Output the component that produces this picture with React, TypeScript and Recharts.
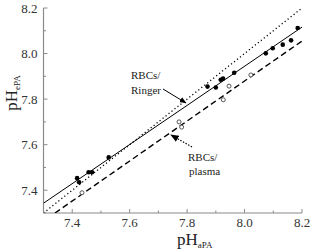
import React from 'react';
import { ScatterChart, Scatter, XAxis, YAxis } from 'recharts';

const ringerX = [7.417, 7.424, 7.457, 7.469, 7.527, 7.871, 7.900, 7.917, 7.925, 7.964, 8.074, 8.098, 8.133, 8.162, 8.185];
const ringerY = [7.453, 7.435, 7.479, 7.479, 7.544, 7.855, 7.851, 7.885, 7.890, 7.916, 8.001, 8.023, 8.039, 8.058, 8.112];
const plasmaX = [7.434, 7.772, 7.781, 7.926, 7.946, 8.022];
const plasmaY = [7.389, 7.700, 7.677, 7.797, 7.857, 7.906];

const identityX = [7.3, 8.2];
const identityY = [7.3, 8.2];
const ringerFitX = [7.3, 8.2];
const ringerFitY = [7.343, 8.116];
const plasmaFitX = [7.34, 8.2];
const plasmaFitY = [7.3, 8.055];

const tickValues = [7.3, 7.4, 7.5, 7.6, 7.7, 7.8, 7.9, 8.0, 8.1, 8.2];
const labeledTicks = ['7.4', '7.6', '7.8', '8.0', '8.2'];

const zip = (xs: number[], ys: number[]) => xs.map((x, i) => ({ x, y: ys[i] }));

const ringerData = zip(ringerX, ringerY);
const plasmaData = zip(plasmaX, plasmaY);
const identityData = zip(identityX, identityY);
const ringerFitData = zip(ringerFitX, ringerFitY);
const plasmaFitData = zip(plasmaFitX, plasmaFitY);

const FONT = "'Liberation Serif', 'Times New Roman', serif";
const AXIS = '#8a8a8a';

const XTick = (props: any) => {
  const { x, y, payload } = props;
  const label = Number(payload.value).toFixed(1);
  const major = labeledTicks.includes(label);
  return (
    <g>
      <line x1={x} x2={x} y1={y} y2={y - (major ? 4 : 2.5)} stroke={AXIS} strokeWidth={1} />
      {major && (
        <text x={x} y={y + 14} textAnchor="middle" fontFamily={FONT} fontSize={13} fill="#333">
          {label}
        </text>
      )}
    </g>
  );
};

const YTick = (props: any) => {
  const { x, y, payload } = props;
  const label = Number(payload.value).toFixed(1);
  const major = labeledTicks.includes(label);
  return (
    <g>
      <line x1={x} x2={x + (major ? 4 : 2.5)} y1={y} y2={y} stroke={AXIS} strokeWidth={1} />
      {major && (
        <text x={x - 6} y={y + 4.5} textAnchor="end" fontFamily={FONT} fontSize={13} fill="#333">
          {label}
        </text>
      )}
    </g>
  );
};

const Filled = (p: any) => <circle cx={p.cx} cy={p.cy} r={2.3} fill="#000" />;
const Open = (p: any) => <circle cx={p.cx} cy={p.cy} r={2} fill="#fff" stroke="#555" strokeWidth={1} />;
const NoShape = () => <g />;

export default function App() {
  return (
    <div style={{ position: 'absolute', left: 0, top: 0, width: 312, height: 250, background: '#fff' }}>
      <ScatterChart width={312} height={250} margin={{ top: 8, right: 10, bottom: 0, left: 0 }}>
        <defs>
          <marker id="arrowHead" viewBox="0 0 10 10" refX="9" refY="5" markerWidth="7" markerHeight="7" orient="auto">
            <path d="M0,1 L10,5 L0,9 z" fill="#000" />
          </marker>
        </defs>
        <XAxis
          dataKey="x"
          type="number"
          domain={[7.3, 8.2]}
          ticks={tickValues}
          interval={0}
          allowDataOverflow
          height={37}
          tickSize={0}
          tickMargin={0}
          tickLine={false}
          axisLine={{ stroke: AXIS, strokeWidth: 1.2 }}
          tick={<XTick />}
        />
        <YAxis
          dataKey="y"
          type="number"
          domain={[7.3, 8.2]}
          ticks={tickValues}
          interval={0}
          allowDataOverflow
          width={43.5}
          tickSize={0}
          tickMargin={0}
          tickLine={false}
          axisLine={{ stroke: AXIS, strokeWidth: 1.2 }}
          tick={<YTick />}
        />
        <Scatter data={identityData} line={{ stroke: '#000', strokeWidth: 1.3, strokeDasharray: '1.2 2.6' }} shape={<NoShape />} isAnimationActive={false} />
        <Scatter data={ringerFitData} line={{ stroke: '#000', strokeWidth: 1 }} shape={<NoShape />} isAnimationActive={false} />
        <Scatter data={plasmaFitData} line={{ stroke: '#000', strokeWidth: 1.4, strokeDasharray: '6 3.5' }} shape={<NoShape />} isAnimationActive={false} />
        <Scatter data={plasmaData} shape={<Open />} isAnimationActive={false} />
        <Scatter data={ringerData} shape={<Filled />} isAnimationActive={false} />

        <g fontFamily={FONT} fill="#222">
          <text x={131} y={79} fontSize={11}>RBCs/</text>
          <text x={131} y={94} fontSize={11}>Ringer</text>
          <line x1={163} y1={89} x2={186} y2={103} stroke="#000" strokeWidth={1} markerEnd="url(#arrowHead)" />
          <text x={188} y={161} fontSize={11}>RBCs/</text>
          <text x={189} y={175} fontSize={11}>plasma</text>
          <line x1={192} y1={147} x2={171} y2={135} stroke="#000" strokeWidth={1.2} strokeDasharray="1.5 1.5" markerEnd="url(#arrowHead)" />
          <text x={177} y={245} fontSize={17}>
            pH<tspan fontSize={9} dy={3}>aPA</tspan>
          </text>
          <text transform="translate(17,93) rotate(-90)" textAnchor="middle" fontSize={17}>
            pH<tspan fontSize={9} dy={3}>ePA</tspan>
          </text>
        </g>
      </ScatterChart>
    </div>
  );
}
